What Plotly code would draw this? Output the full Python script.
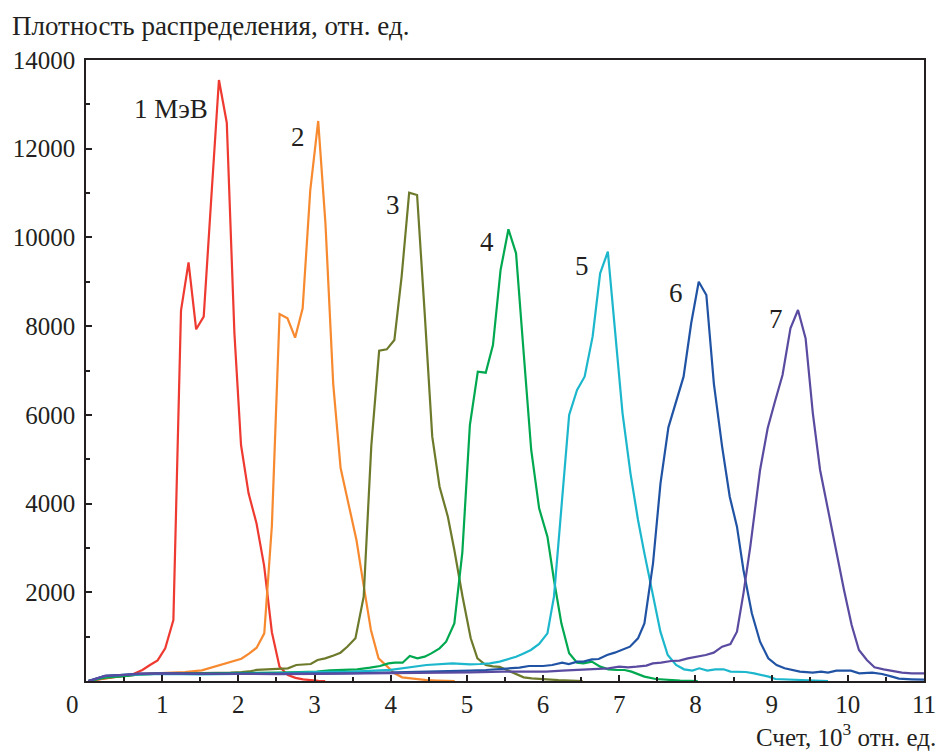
import plotly.graph_objects as go

# ---- data ----
x1 = [0.03, 0.1, 0.25, 0.4, 0.5, 0.6, 0.65, 0.74, 0.84, 0.94, 1.04, 1.147, 1.247, 1.346, 1.446, 1.545, 1.645, 1.745, 1.848, 1.948, 2.035, 2.134, 2.238, 2.338, 2.44, 2.54, 2.65, 2.75, 2.85, 2.95, 3.05, 3.14]
y1 = [0, 20, 60, 100, 120, 140, 173, 248, 361, 465, 737, 1375, 8349, 9439, 7929, 8214, 10900, 13549, 12587, 7845, 5320, 4231, 3555, 2600, 1100, 323, 135, 70, 35, 15, 5, 0]

x2 = [0.03, 0.1, 0.25, 0.43, 0.65, 0.87, 1.08, 1.3, 1.52, 1.73, 1.84, 1.94, 2.04, 2.14, 2.24, 2.34, 2.44, 2.541, 2.645, 2.745, 2.844, 2.944, 3.048, 3.143, 3.245, 3.342, 3.45, 3.55, 3.64, 3.74, 3.84, 3.95, 4.05, 4.15, 4.25, 4.35, 4.47, 4.6, 4.72, 4.84]
y2 = [0, 20, 60, 113, 158, 173, 180, 203, 240, 353, 406, 450, 503, 616, 750, 1074, 3500, 8274, 8176, 7740, 8402, 11069, 12625, 10318, 6700, 4800, 3930, 3179, 2202, 1150, 511, 323, 173, 83, 60, 40, 20, 10, 5, 0]

x3 = [0.03, 0.1, 0.25, 0.5, 0.7, 0.9, 1.1, 1.3, 1.5, 1.7, 1.9, 2.04, 2.14, 2.24, 2.34, 2.5, 2.65, 2.76, 2.86, 2.95, 3.04, 3.14, 3.25, 3.34, 3.43, 3.537, 3.645, 3.745, 3.848, 3.948, 4.048, 4.143, 4.242, 4.346, 4.446, 4.545, 4.641, 4.75, 4.835, 4.943, 5.05, 5.138, 5.247, 5.34, 5.43, 5.53, 5.64, 5.745, 5.85, 5.98, 6.2, 6.52]
y3 = [0, 20, 70, 110, 150, 160, 165, 160, 170, 180, 190, 200, 215, 250, 260, 286, 286, 361, 370, 383, 473, 510, 575, 638, 773, 962, 1900, 5300, 7447, 7477, 7687, 9115, 11009, 10956, 8289, 5508, 4381, 3704, 2953, 1900, 962, 511, 361, 330, 320, 248, 173, 83, 60, 40, 20, 0]

x4 = [0.03, 0.1, 0.25, 0.5, 0.7, 1.0, 1.5, 2.0, 2.5, 2.8, 3.03, 3.2, 3.43, 3.56, 3.73, 3.86, 3.97, 4.056, 4.156, 4.25, 4.35, 4.446, 4.533, 4.641, 4.727, 4.835, 4.94, 5.039, 5.143, 5.247, 5.342, 5.442, 5.545, 5.645, 5.745, 5.844, 5.948, 6.057, 6.143, 6.24, 6.342, 6.446, 6.53, 6.64, 6.75, 6.857, 6.965, 7.07, 7.16, 7.25, 7.33, 7.48, 7.64, 7.8, 8.03]
y4 = [0, 20, 80, 110, 150, 165, 170, 180, 190, 200, 210, 240, 263, 263, 300, 338, 398, 413, 413, 564, 511, 549, 623, 736, 886, 1300, 2900, 5771, 6973, 6951, 7575, 9266, 10183, 9642, 7400, 5208, 3893, 3253, 2277, 1300, 624, 413, 398, 436, 323, 263, 248, 248, 211, 150, 98, 45, 23, 10, 0]

x5 = [0.03, 0.1, 0.25, 0.5, 1.0, 1.5, 2.0, 2.5, 3.0, 3.5, 4.0, 4.47, 4.81, 5.04, 5.17, 5.3, 5.43, 5.537, 5.645, 5.73, 5.84, 5.948, 6.057, 6.143, 6.243, 6.342, 6.446, 6.545, 6.65, 6.749, 6.85, 6.944, 7.043, 7.147, 7.246, 7.33, 7.44, 7.54, 7.636, 7.745, 7.85, 7.96, 8.05, 8.156, 8.26, 8.37, 8.46, 8.55, 8.66, 8.77, 8.87, 8.96, 9.05, 9.2, 9.37, 9.5, 9.74]
y5 = [0, 40, 110, 140, 160, 150, 160, 170, 200, 210, 250, 361, 398, 376, 383, 398, 436, 488, 548, 608, 699, 834, 1074, 1901, 4000, 5997, 6560, 6861, 7762, 9191, 9679, 7900, 6035, 4682, 3630, 2878, 1977, 1112, 586, 361, 263, 233, 286, 233, 263, 263, 211, 211, 203, 173, 135, 98, 45, 38, 23, 8, 0]

x6 = [0.03, 0.1, 0.25, 0.5, 0.7, 1.0, 1.5, 2.0, 2.5, 3.0, 3.5, 4.0, 4.5, 5.04, 5.25, 5.47, 5.69, 5.815, 6.0, 6.12, 6.25, 6.337, 6.45, 6.53, 6.64, 6.73, 6.84, 6.94, 7.03, 7.14, 7.246, 7.33, 7.443, 7.541, 7.645, 7.745, 7.844, 7.944, 8.043, 8.143, 8.242, 8.35, 8.45, 8.545, 8.63, 8.74, 8.848, 8.956, 9.065, 9.17, 9.28, 9.37, 9.54, 9.65, 9.74, 9.85, 10.04, 10.15, 10.32, 10.45, 10.58, 10.67, 10.84, 11.0]
y6 = [0, 40, 115, 140, 165, 175, 160, 165, 160, 165, 175, 190, 210, 233, 248, 271, 301, 338, 338, 361, 413, 383, 436, 436, 488, 496, 586, 639, 699, 774, 962, 1300, 2653, 4457, 5719, 6297, 6861, 8064, 9002, 8702, 6700, 5282, 4155, 3479, 2502, 1526, 886, 511, 361, 286, 248, 211, 188, 211, 188, 233, 233, 173, 188, 158, 98, 53, 38, 30]

x7 = [0.03, 0.1, 0.25, 0.5, 0.7, 1.0, 1.5, 2.0, 2.5, 3.0, 3.5, 4.0, 4.5, 5.04, 5.47, 5.82, 6.04, 6.25, 6.47, 6.68, 6.857, 7.0, 7.117, 7.226, 7.355, 7.44, 7.55, 7.68, 7.79, 7.9, 8.03, 8.135, 8.24, 8.35, 8.459, 8.545, 8.63, 8.72, 8.848, 8.948, 9.043, 9.143, 9.247, 9.346, 9.446, 9.541, 9.636, 9.736, 9.844, 9.95, 10.05, 10.146, 10.25, 10.35, 10.47, 10.58, 10.71, 10.84, 11.0]
y7 = [0, 40, 115, 140, 160, 170, 160, 160, 155, 160, 165, 170, 180, 196, 211, 211, 211, 233, 248, 278, 286, 323, 308, 323, 346, 398, 413, 451, 458, 511, 548, 586, 639, 774, 834, 1112, 1977, 3028, 4757, 5697, 6297, 6898, 7951, 8364, 7725, 6035, 4757, 3893, 2953, 2052, 1262, 699, 473, 308, 263, 233, 188, 173, 173]

series_x = [x1, x2, x3, x4, x5, x6, x7]
series_y = [y1, y2, y3, y4, y5, y6, y7]
colors = ["#EE3A30", "#F7892F", "#6E7A2B", "#00A850", "#1CB7CC", "#2053A4", "#5A4BA0"]

labels = ["1 МэВ", "2", "3", "4", "5", "6", "7"]
label_x = [1.12, 2.786, 4.026, 5.266, 6.506, 7.74, 9.058]
label_y = [12900, 12253, 10731, 9886, 9345, 8747, 8172]

x_ticks = [1, 2, 3, 4, 5, 6, 7, 8, 9, 10, 11]
x_minor = [0.5 + i for i in range(11)]
y_ticks = [2000, 4000, 6000, 8000, 10000, 12000, 14000]
y_minor = [1000, 3000, 5000, 7000, 9000, 11000, 13000]

FONT = "Liberation Serif"
INK = "#231F20"

fig = go.Figure()
for xs, ys, c in zip(series_x, series_y, colors):
    fig.add_trace(go.Scatter(x=xs, y=ys, mode="lines",
                             line=dict(color=c, width=2.2), showlegend=False,
                             hoverinfo="skip"))

for t, lx, ly in zip(labels, label_x, label_y):
    fig.add_annotation(x=lx, y=ly, xref="x", yref="y", text=t, showarrow=False,
                       font=dict(family=FONT, size=27, color=INK))

# origin label "0"
fig.add_annotation(x=0, y=0, xref="x", yref="y", text="0", showarrow=False,
                   xanchor="center", yanchor="top", xshift=-14, yshift=-8,
                   font=dict(family=FONT, size=25, color=INK))

# axis titles
fig.add_annotation(x=(9 - 86) / 847, y=(681 - 26) / 621, xref="paper", yref="paper",
                   text="Плотность распределения, отн. ед.", showarrow=False,
                   xanchor="left", yanchor="middle",
                   font=dict(family=FONT, size=27, color=INK))
fig.add_annotation(x=(947 - 86) / 847, y=(681 - 735) / 621, xref="paper", yref="paper",
                   text="Счет, 10<sup>3</sup> отн. ед.", showarrow=False,
                   xanchor="right", yanchor="middle",
                   font=dict(family=FONT, size=25, color=INK))

axis_common = dict(showline=True, linecolor=INK, linewidth=1.5, mirror=True,
                   ticks="inside", tickcolor=INK, tickwidth=1.5, ticklen=6,
                   showgrid=False, zeroline=False,
                   tickfont=dict(family=FONT, size=25, color=INK))

fig.update_xaxes(range=[0, 11], tickmode="array", tickvals=x_ticks,
                 ticktext=[str(v) for v in x_ticks],
                 minor=dict(tickmode="array", tickvals=x_minor, ticklen=4,
                            tickcolor=INK, tickwidth=1.5, ticks="inside"),
                 **axis_common)
fig.update_yaxes(range=[0, 14000], tickmode="array", tickvals=y_ticks,
                 ticktext=[str(v) for v in y_ticks], ticklabelstandoff=4,
                 minor=dict(tickmode="array", tickvals=y_minor, ticklen=4,
                            tickcolor=INK, tickwidth=1.5, ticks="inside"),
                 **axis_common)

fig.update_layout(width=948, height=753,
                  margin=dict(l=86, r=15, t=60, b=72),
                  paper_bgcolor="white", plot_bgcolor="white",
                  font=dict(family=FONT, color=INK))

fig.write_html("out.html")
